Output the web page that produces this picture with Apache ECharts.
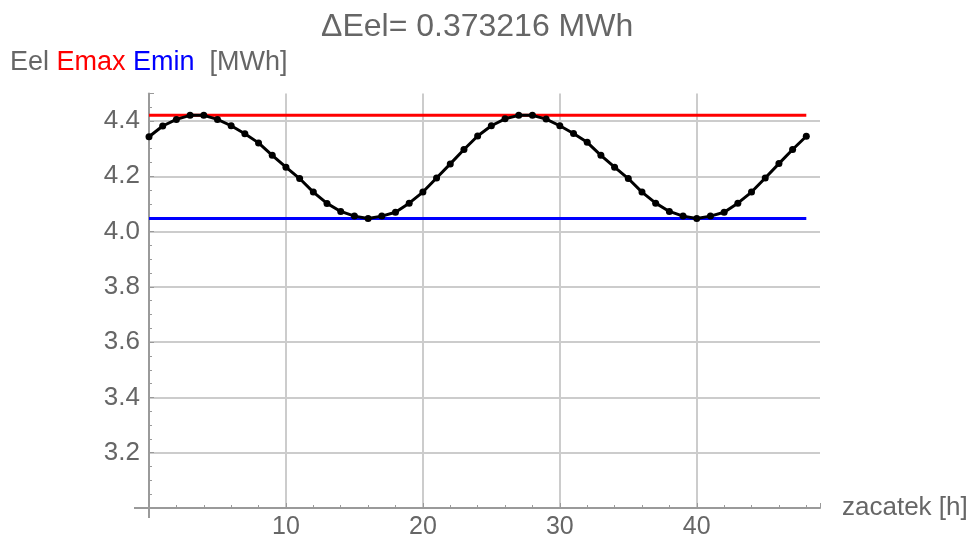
<!DOCTYPE html>
<html><head><meta charset="utf-8">
<script src="https://cdn.jsdelivr.net/npm/echarts@6/dist/echarts.min.js"></script>
<style>html,body{margin:0;padding:0;background:#fff}#c{width:973px;height:545px}</style>
</head><body><div id="c"></div>
<script>
const hours = [0,1,2,3,4,5,6,7,8,9,10,11,12,13,14,15,16,17,18,19,20,21,22,23,24,25,26,27,28,29,30,31,32,33,34,35,36,37,38,39,40,41,42,43,44,45,46,47,48];
const eel = [4.343,4.382,4.406,4.4205,4.4205,4.406,4.383,4.354,4.321,4.276,4.233,4.192,4.143,4.102,4.073,4.056,4.0473,4.056,4.070,4.103,4.143,4.194,4.245,4.297,
             4.346,4.383,4.408,4.4205,4.4205,4.407,4.383,4.355,4.323,4.276,4.233,4.192,4.143,4.103,4.073,4.056,4.0473,4.056,4.070,4.103,4.143,4.194,4.246,4.297,4.345];
const Emax = 4.4205;
const Emin = 4.0473;
const titleText = 'ΔEel= 0.373216 MWh';
const xTicks = [10,20,30,40];
const yTicks = [3.2,3.4,3.6,3.8,4.0,4.2,4.4];

const font = '"Liberation Sans", Arial, Helvetica, sans-serif';
const textGray = '#666666';
const axisGray = '#9a9a9a';
const chart = echarts.init(document.getElementById('c'), null, {renderer:'canvas'});
const pairs = (ys) => hours.map((h,i)=>[h, ys[i]]);
chart.setOption({
  animation:false,
  backgroundColor:'#fff',
  graphic:[
    {type:'text', left:321, top:11, style:{text:titleText, font:'32px '+font, fill:textGray}},
    {type:'text', left:10, top:49, style:{
      text:'{a|Eel }{b|Emax }{c|Emin}{a|  [MWh]}',
      rich:{
        a:{fill:textGray, fontSize:27, fontFamily:font},
        b:{fill:'#ff0000', fontSize:27, fontFamily:font},
        c:{fill:'#0000ff', fontSize:27, fontFamily:font}
      }}},
    {type:'line', shape:{x1:149, y1:507, x2:149, y2:518}, style:{stroke:axisGray, lineWidth:2}, z:10},
    {type:'line', shape:{x1:134, y1:508, x2:150, y2:508}, style:{stroke:axisGray, lineWidth:2}, z:10}
  ],
  grid:{left:149, right:153, top:93.4, bottom:37, containLabel:false},
  xAxis:{
    type:'value', min:0, max:49, interval:10,
    name:'zacatek [h]', nameLocation:'end', nameGap:22,
    nameTextStyle:{color:textGray, fontSize:26, fontFamily:font, verticalAlign:'middle'},
    axisLine:{show:true, onZero:false, lineStyle:{color:axisGray, width:2}},
    axisTick:{show:true, inside:true, length:5, lineStyle:{color:axisGray, width:1}},
    minorTick:{show:true, splitNumber:5, length:3, lineStyle:{color:axisGray, width:1}},
    axisLabel:{color:textGray, fontSize:25, fontFamily:font, margin:7,
      formatter:(v)=> xTicks.indexOf(v)>=0 ? String(v) : ''},
    splitLine:{show:true, showMinLine:false, showMaxLine:false, lineStyle:{color:'#cccccc', width:2}}
  },
  yAxis:{
    type:'value', min:3.0, max:4.5, interval:0.2,
    axisLine:{show:true, onZero:false, lineStyle:{color:axisGray, width:2}},
    axisTick:{show:true, inside:true, length:5, lineStyle:{color:axisGray, width:1}},
    minorTick:{show:true, splitNumber:4, length:3, lineStyle:{color:axisGray, width:1}},
    axisLabel:{color:textGray, fontSize:26, fontFamily:font, margin:9,
      formatter:(v)=> yTicks.some(t=>Math.abs(t-v)<1e-6) ? v.toFixed(1) : ''},
    splitLine:{show:true, showMinLine:false, showMaxLine:false, lineStyle:{color:'#cccccc', width:2}}
  },
  series:[
    {name:'Emax', type:'line', data:pairs(hours.map(()=>Emax)), showSymbol:false, silent:true,
      lineStyle:{color:'#ff0000', width:3}, z:2},
    {name:'Emin', type:'line', data:pairs(hours.map(()=>Emin)), showSymbol:false, silent:true,
      lineStyle:{color:'#0000ff', width:3}, z:2},
    {name:'Eel', type:'line', data:pairs(eel), symbol:'circle', symbolSize:7, showAllSymbol:true,
      itemStyle:{color:'#000'}, lineStyle:{color:'#000', width:3}, z:3}
  ]
});
</script></body></html>
